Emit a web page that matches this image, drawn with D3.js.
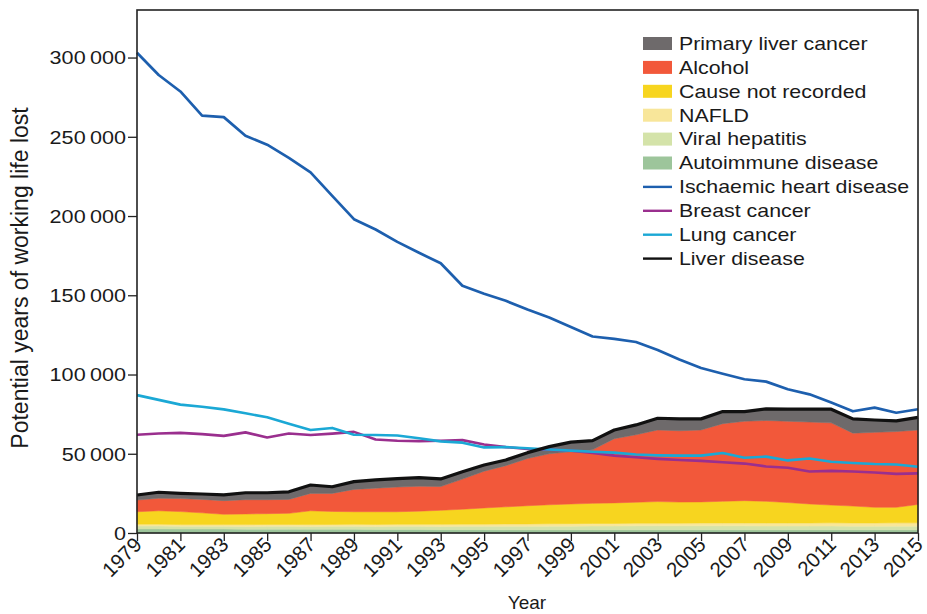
<!DOCTYPE html>
<html><head><meta charset="utf-8">
<script src="https://cdn.jsdelivr.net/npm/d3@7"></script>
<style>
body{margin:0;background:#fff}
svg{display:block}
text{font-family:"Liberation Sans",Arial,Helvetica,sans-serif;fill:#1a1a1a}
</style>
</head><body><svg id="c" width="927" height="614"></svg>
<script>
// ---- data (potential years of working life lost) ----
const years = [1979,1980,1981,1982,1983,1984,1985,1986,1987,1988,1989,1990,1991,1992,1993,1994,1995,1996,1997,1998,1999,2000,2001,2002,2003,2004,2005,2006,2007,2008,2009,2010,2011,2012,2013,2014,2015];
const xTickLabels = [1979,1981,1983,1985,1987,1989,1991,1993,1995,1997,1999,2001,2003,2005,2007,2009,2011,2013,2015];
const yTickValues = [0,50000,100000,150000,200000,250000,300000];

const autoimmune = [2600,2600,2500,2500,2500,2400,2400,2400,2300,2300,2300,2200,2200,2200,2100,2100,2100,2000,2000,2000,2000,2000,2000,2000,2000,2000,2000,2000,2000,2000,2000,2000,2000,2000,2000,2000,2000];
const viralHepatitis = [1800,1800,1700,1700,1700,1700,1800,1800,1800,1900,1900,1900,2000,2000,2000,2100,2100,2200,2200,2300,2300,2400,2400,2500,2500,2500,2500,2500,2500,2400,2400,2400,2400,2300,2300,2300,2300];
const nafld = [1200,1200,1100,1100,1100,1200,1200,1200,1200,1200,1300,1300,1300,1300,1400,1400,1400,1500,1500,1500,1600,1600,1600,1700,1700,1700,1800,1800,1800,1900,1900,1900,2000,2000,2000,2100,2100];
const causeNotRecorded = [7800,8400,8200,7400,6500,6700,6800,7000,8700,8200,7900,8000,7900,8300,8800,9400,10200,10800,11500,12000,12400,12700,13000,13200,13600,13300,13300,13700,14100,13700,12900,12000,11200,10700,9900,9800,11600];
const alcohol = [7400,7900,8200,8500,8600,9000,8800,8800,11000,11400,14100,14900,15600,15700,15000,19000,23200,26000,29800,32200,33000,33800,40500,42600,45200,45000,45400,49000,50100,51000,51300,51700,51900,46000,47300,47800,47000];
const primaryLiverCancer = [3200,3800,3300,3400,3600,4400,4400,4800,5300,4200,4900,5200,5300,5500,4800,4700,3900,3600,3700,4500,6000,5800,5500,6200,7400,7500,7000,7600,6100,7300,7700,8200,8600,9000,7800,6700,8000];

const ischaemicHeartDisease = [303000,289000,278600,263300,262400,250600,245000,236700,227500,212700,198000,191500,183700,176800,170200,156000,151000,146500,141000,136000,130000,124000,122500,120500,115500,109500,104100,100500,97000,95500,90700,87500,82300,76800,79100,75900,78100];
const breastCancer = [62000,62800,63200,62400,61300,63500,60300,62800,61800,62700,63800,59000,58200,58000,58200,58600,55800,54200,53000,52500,52000,50500,48800,47800,46800,46100,45500,44600,43800,42000,41200,38800,39200,38800,38200,37300,37600];
const lungCancer = [87000,84000,81000,79700,78000,75500,73000,69000,65000,66300,62000,61800,61500,59800,57800,57000,54000,54200,53500,52700,52000,51300,50700,49500,49000,48800,48800,50500,47500,48200,45800,47000,45000,44200,43500,43200,41800];
const liverDisease = [24000,25700,25000,24600,24000,25400,25400,26000,30300,29200,32400,33500,34300,35000,34100,38700,42900,46100,50700,54500,57300,58300,65000,68200,72400,72000,72000,76600,76600,78300,78200,78200,78100,72000,71300,70700,73000];

const areaKeys = ["Autoimmune disease","Viral hepatitis","NAFLD","Cause not recorded","Alcohol","Primary liver cancer"];
const areaSeries = [autoimmune, viralHepatitis, nafld, causeNotRecorded, alcohol, primaryLiverCancer];
const areaColors = ["#9dc59b","#d4e3a9","#f8e69a","#f7d51f","#f2583a","#6e6a6b"];

const lineKeys = ["Ischaemic heart disease","Breast cancer","Lung cancer","Liver disease"];
const lineSeries = [ischaemicHeartDisease, breastCancer, lungCancer, liverDisease];
const lineColors = ["#1d5fae","#9a2f8e","#1ba8d5","#111111"];
const lineWidths = [2.7,2.6,2.6,3.2];

// ---- layout ----
const svg = d3.select("#c");
const L = 137, R = 918, T = 10, B = 533;
const x = d3.scaleLinear().domain([1979, 2015]).range([L, R]);
const y = d3.scaleLinear().domain([0, 330000]).range([B, T]);

// table for stack
const table = years.map((yr, i) => {
  const row = {year: yr};
  areaKeys.forEach((k, j) => row[k] = areaSeries[j][i]);
  return row;
});
const stacked = d3.stack().keys(areaKeys)(table);

const area = d3.area().x(d => x(d.data.year)).y0(d => y(d[0])).y1(d => y(d[1]));
svg.append("g").selectAll("path").data(stacked).join("path")
  .attr("d", area).attr("fill", (d, i) => areaColors[i]).attr("stroke", (d,i)=>areaColors[i]).attr("stroke-width",0.5);

const line = d3.line().x((d, i) => x(years[i])).y(d => y(d));
lineSeries.forEach((s, j) => {
  svg.append("path").attr("d", line(s)).attr("fill", "none")
    .attr("stroke", lineColors[j]).attr("stroke-width", lineWidths[j]).attr("stroke-linejoin", "round");
});

// frame
svg.append("rect").attr("x", L).attr("y", T).attr("width", R - L).attr("height", B - T)
  .attr("fill", "none").attr("stroke", "#222").attr("stroke-width", 1.6);

// y axis
const fmt = v => d3.format(",")(v).replace(/,/g, "\u2009");
const yAxis = svg.append("g").attr("transform", `translate(${L},0)`)
  .call(d3.axisLeft(y).tickValues(yTickValues).tickSize(9).tickPadding(3).tickFormat(() => ""));
yAxis.select(".domain").remove();
yAxis.selectAll("line").attr("stroke", "#222").attr("stroke-width", 1.3);
yTickValues.forEach(v => {
  svg.append("text").attr("transform", `translate(126,${y(v) + 6.8}) scale(1.2,1)`)
    .attr("text-anchor", "end").attr("font-size", 18).text(fmt(v));
});

// x axis
const xAxis = svg.append("g").attr("transform", `translate(0,${B})`)
  .call(d3.axisBottom(x).tickValues(xTickLabels).tickSize(8).tickFormat(() => ""));
xAxis.select(".domain").remove();
xAxis.selectAll("line").attr("stroke", "#222").attr("stroke-width", 1.3);
xTickLabels.forEach(v => {
  svg.append("text").attr("transform", `translate(${x(v) + 6},${B + 13}) rotate(-45)`)
    .attr("text-anchor", "end").attr("font-size", 20.5).text(v);
});

// axis titles
svg.append("text").attr("x", 527).attr("y", 609).attr("text-anchor", "middle")
  .attr("font-size", 19).text("Year");
svg.append("text").attr("transform", "translate(28,278) rotate(-90)").attr("text-anchor", "middle")
  .attr("font-size", 23).text("Potential years of working life lost");

// legend
const legendItems = [
  ...areaKeys.map((k, i) => ({name: k, color: areaColors[i], type: "area"})).reverse(),
  ...lineKeys.map((k, i) => ({name: k, color: lineColors[i], type: "line"}))
];
const lg = svg.append("g");
legendItems.forEach((d, i) => {
  const cy = 43.5 + i * 23.9;
  if (d.type === "area") {
    lg.append("rect").attr("x", 643).attr("y", cy - 6.5).attr("width", 29).attr("height", 13).attr("fill", d.color);
  } else {
    lg.append("line").attr("x1", 643).attr("x2", 672).attr("y1", cy).attr("y2", cy)
      .attr("stroke", d.color).attr("stroke-width", 2.4);
  }
  lg.append("text").attr("transform", `translate(679,${cy + 6.3}) scale(1.22,1)`)
    .attr("font-size", 17.5).text(d.name);
});
</script>
</body></html>
